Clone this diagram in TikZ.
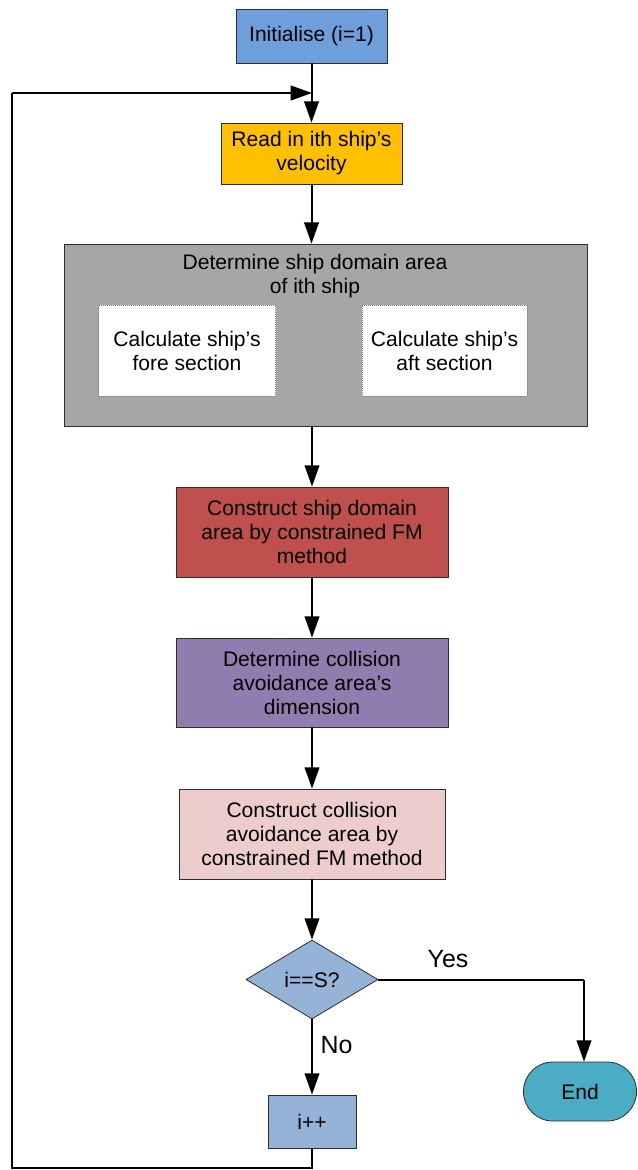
\documentclass[tikz,border=0pt]{standalone}
\usepackage{fontspec}
\setmainfont{Liberation Sans}
\usetikzlibrary{arrows.meta,shapes.geometric}
\definecolor{cinit}{RGB}{111,159,219}
\definecolor{cread}{RGB}{255,192,0}
\definecolor{cgray}{RGB}{166,166,166}
\definecolor{cred}{RGB}{192,80,77}
\definecolor{cpurp}{RGB}{145,124,175}
\definecolor{cpink}{RGB}{236,205,204}
\definecolor{cblue}{RGB}{149,179,215}
\definecolor{cend}{RGB}{75,172,198}
\definecolor{cborder}{RGB}{45,45,45}
\begin{document}
\begin{tikzpicture}[x=0.75pt,y=-0.75pt,
  every node/.style={font=\fontsize{15.8}{18}\selectfont, align=center, inner sep=0pt},
  box/.style={draw=cborder, line width=0.6pt, rectangle},
  subbox/.style={draw=gray, densely dotted, line width=0.5pt, fill=white, rectangle},
  conn/.style={line width=1.5pt, -{Triangle[length=16pt,width=11pt]}},
  plain/.style={line width=1.5pt},
  lbl/.style={font=\fontsize{18.7}{20}\selectfont}]
\useasboundingbox (0,0) rectangle (637,1170);
\node[box, fill=cinit, minimum width=113.25pt, minimum height=40.5pt] (init) at (311.5,36) {Initialise (i=1)};
\node[box, fill=cread, minimum width=135.75pt, minimum height=45.75pt] (read) at (311.5,153.5) {Read in ith ship’s\\velocity};
\node[box, fill=cgray, minimum width=392.25pt, minimum height=136.5pt] (gray) at (325.5,335) {};
\node (gtitle) at (315,276) {Determine ship domain area\\of ith ship};
\node[subbox, minimum width=132.75pt, minimum height=68.25pt] (fore) at (187,350.5) {Calculate ship’s\\fore section};
\node[subbox, minimum width=123.75pt, minimum height=68.25pt] (aft) at (444.5,350.5) {Calculate ship’s\\aft section};
\node[box, fill=cred, minimum width=204pt, minimum height=67.5pt] (cons) at (312,532) {Construct ship domain\\area by constrained FM\\method};
\node[box, fill=cpurp, minimum width=204pt, minimum height=66.75pt] (dim) at (312,682.5) {Determine collision\\avoidance area’s\\dimension};
\node[box, fill=cpink, minimum width=199.5pt, minimum height=67.5pt] (cav) at (312,834) {Construct collision\\avoidance area by\\constrained FM method};
\node[draw=cborder, line width=0.6pt, fill=cblue, diamond, minimum width=99pt, minimum height=59.25pt] (dec) at (312,979.5) {i==S?};
\node[draw=cborder, line width=0.6pt, fill=cend, rounded corners=22pt, minimum width=84.75pt, minimum height=44.25pt] (end) at (580,1091.5) {End};
\node[box, fill=cblue, minimum width=66pt, minimum height=39.75pt] (inc) at (312,1121.5) {i++};
\node[lbl] (yes) at (448,959) {Yes};
\node[lbl] (no) at (336.5,1045) {No};
\coordinate (join) at (312,93);
\coordinate (c1) at (312,1168);
\coordinate (c2) at (12,1168);
\coordinate (c3) at (12,93);
\coordinate (c4) at (584,979.5);
\draw[conn] (init.south) -- (read.north);
\draw[conn] (read.south) -- (read.south |- gray.north);
\draw[conn] (cons.north |- gray.south) -- (cons.north);
\draw[conn] (cons.south) -- (dim.north);
\draw[conn] (dim.south) -- (cav.north);
\draw[conn] (cav.south) -- (dec.north);
\draw[conn] (dec.south) -- (inc.north);
\draw[plain] (dec.east) -- (c4);
\draw[conn] (c4) -- (c4 |- end.north);
\draw[plain] (inc.south) -- (c1) -- (c2) -- (c3);
\draw[conn] (c3) -- (join);
\end{tikzpicture}
\end{document}
